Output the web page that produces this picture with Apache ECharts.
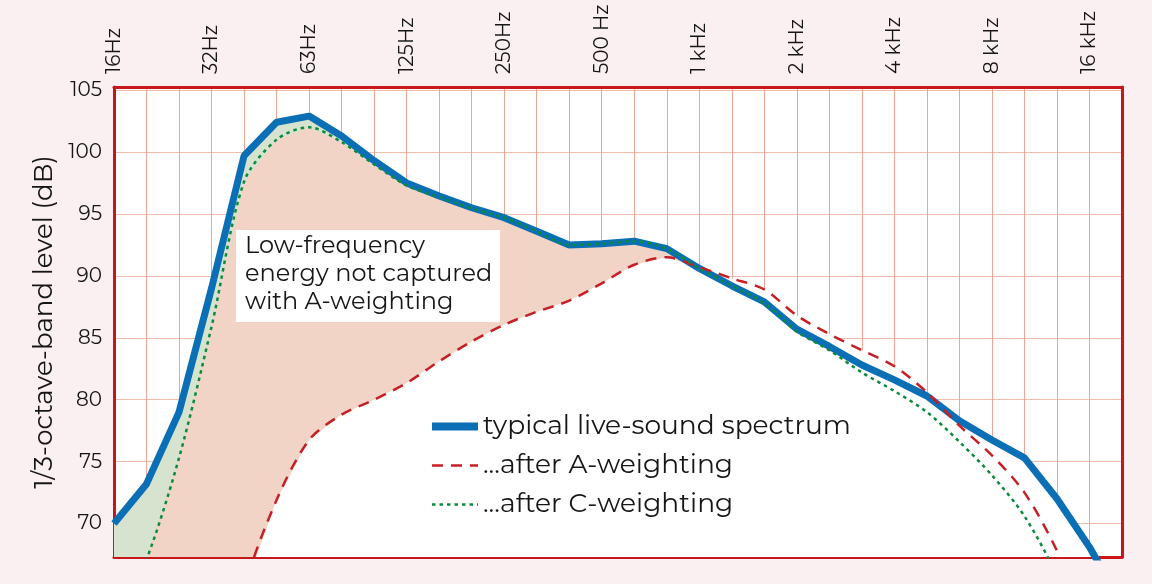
<!DOCTYPE html>
<html>
<head>
<meta charset="utf-8">
<script src="https://cdn.jsdelivr.net/npm/echarts@6/dist/echarts.min.js"></script>
<style>
    html, body { margin: 0; padding: 0; background: #fbf0f1; }
    #chart { width: 1152px; height: 584px; }
</style>
</head>
<body>
<div id="chart"></div>
<script>
// 1/3-octave bands, 16 Hz .. 20 kHz (every 3rd one is labelled)
const bands = ['16Hz', '20Hz', '25Hz', '32Hz', '40Hz', '50Hz', '63Hz', '80Hz', '100Hz', '125Hz',
    '160Hz', '200Hz', '250Hz', '315Hz', '400Hz', '500 Hz', '630Hz', '800Hz', '1 kHz', '1.25 kHz',
    '1.6 kHz', '2 kHz', '2.5 kHz', '3.15 kHz', '4 kHz', '5 kHz', '6.3 kHz', '8 kHz', '10 kHz',
    '12.5 kHz', '16 kHz', '20 kHz'];

const liveSpectrum = [70.0, 73.2, 79.0, 89.0, 99.7, 102.4, 102.9, 101.3, 99.3, 97.5, 96.45, 95.5,
    94.7, 93.6, 92.5, 92.6, 92.8, 92.2, 90.6, 89.2, 87.9, 85.7, 84.3, 82.8, 81.6, 80.3, 78.3,
    76.75, 75.3, 72.0, 68.1, 63.5];
const aWeighted = [13.3, 22.7, 34.3, 49.6, 64.6, 71.9, 76.75, 78.8, 80.0, 81.35, 83.1, 84.7,
    86.05, 87.1, 88.0, 89.4, 90.9, 91.5, 90.7, 89.8, 88.9, 86.8, 85.3, 84.0, 82.7, 80.6, 77.9,
    75.5, 72.5, 67.8, 61.5, 54.7];
const cWeighted = [61.5, 67.1, 75.3, 85.9, 97.6, 101.0, 102.0, 100.8, 99.0, 97.3, 96.35, 95.45,
    94.7, 93.6, 92.5, 92.6, 92.8, 92.2, 90.6, 89.2, 87.8, 85.5, 84.0, 82.2, 80.7, 79.0, 76.6,
    73.9, 70.6, 65.8, 59.6, 52.8];

const seriesNames = ['typical live-sound spectrum', '...after A-weighting', '...after C-weighting'];
const noteText = 'Low-frequency\nenergy not captured\nwith A-weighting';

const FONT = 'Montserrat, "DejaVu Sans", sans-serif';
const INK = '#161616';
const BLUE = '#0b6fb6', RED = '#c61f26', GREEN = '#0b8a3c';
const FRAME = '#c8161d';
const Y_MIN = 67.3, Y_MAX = 105.25;

// the shaded bands only cover the low end, up to where A meets C
const lowEnd = (arr, last) => arr.map((v, i) => i <= last ? v : null);

function areaSeries(data, color) {
    return {
        type: 'line', data: data, symbol: 'none', silent: true,
        lineStyle: { width: 0 }, areaStyle: { color: color, opacity: 1 }
    };
}

// plain axis used only to draw the red frame on bottom / right
function frameAxis(extra) {
    return Object.assign({
        axisLine: { show: true, lineStyle: { color: FRAME, width: 3 } },
        axisTick: { show: false }, axisLabel: { show: false }, splitLine: { show: false }
    }, extra);
}

let chart = echarts.init(document.getElementById('chart'));
chart.setOption({
    backgroundColor: '#fbf0f1',
    animation: false,
    grid: {
        left: 114, right: 30, top: 87, bottom: 27,
        show: true, backgroundColor: '#ffffff', borderWidth: 0
    },
    xAxis: [{
        type: 'category', position: 'top', data: bands, boundaryGap: false,
        axisLine: { show: true, lineStyle: { color: FRAME, width: 3 } }, axisTick: { show: false },
        axisLabel: {
            interval: (i) => i % 3 === 0, rotate: -90, margin: 13,
            fontFamily: FONT, fontSize: 20, color: INK
        },
        splitLine: { show: true, interval: 0, lineStyle: { color: '#eba793', width: 1 } }
    }, frameAxis({ type: 'category', position: 'bottom', data: bands, boundaryGap: false })],
    yAxis: [{
        type: 'value', min: Y_MIN, max: Y_MAX, splitNumber: 8, minInterval: 5, maxInterval: 5,
        name: '1/3-octave-band level (dB)', nameLocation: 'middle', nameGap: 49,
        nameTextStyle: { fontFamily: FONT, fontSize: 26, color: INK },
        axisLine: { show: true, lineStyle: { color: FRAME, width: 3 } }, axisTick: { show: false },
        axisLabel: {
            margin: 12, fontFamily: FONT, fontSize: 20, color: INK,
            showMinLabel: false, showMaxLabel: false,
            formatter: (v) => (v % 5 === 0 ? String(v) : '')
        },
        splitLine: { lineStyle: { color: '#f0bcad', width: 1 } }
    }, frameAxis({ type: 'value', position: 'right', min: Y_MIN, max: Y_MAX })],
    legend: {
        orient: 'vertical', left: 428, top: 413, padding: 0,
        itemWidth: 46, itemHeight: 14, itemGap: 12,
        textStyle: { fontFamily: FONT, fontSize: 26.5, color: INK },
        data: [
            { name: seriesNames[0], lineStyle: { width: 8 }, itemStyle: { opacity: 0 } },
            { name: seriesNames[1], lineStyle: { width: 2.5 }, itemStyle: { opacity: 0 } },
            { name: seriesNames[2], lineStyle: { width: 2.5 }, itemStyle: { opacity: 0 } }
        ]
    },
    graphic: [
        {
            type: 'rect', x: 236, y: 230, z: 100,
            shape: { x: 0, y: 0, width: 264, height: 92 }, style: { fill: '#ffffff' }
        },
        {
            type: 'text', x: 245, y: 232, z: 101,
            style: { text: noteText, font: '24px ' + FONT, lineHeight: 28, fill: INK }
        }
    ],
    series: [
        areaSeries(liveSpectrum, '#ffffff'),
        areaSeries(lowEnd(liveSpectrum, 17), '#d6e3cf'),
        areaSeries(lowEnd(cWeighted, 18), '#f2d4c6'),
        areaSeries(aWeighted, '#ffffff'),
        {
            name: seriesNames[0], type: 'line', data: liveSpectrum, symbol: 'none',
            lineStyle: { color: BLUE, width: 7 }, itemStyle: { color: BLUE }
        },
        {
            name: seriesNames[1], type: 'line', data: aWeighted, symbol: 'none', smooth: 0.3,
            lineStyle: { color: RED, width: 2.5, type: [11, 8] }, itemStyle: { color: RED }
        },
        {
            name: seriesNames[2], type: 'line', data: cWeighted, symbol: 'none', smooth: 0.3,
            lineStyle: { color: GREEN, width: 2.5, type: [3.5, 4] }, itemStyle: { color: GREEN }
        }
    ]
});
</script>
</body>
</html>
